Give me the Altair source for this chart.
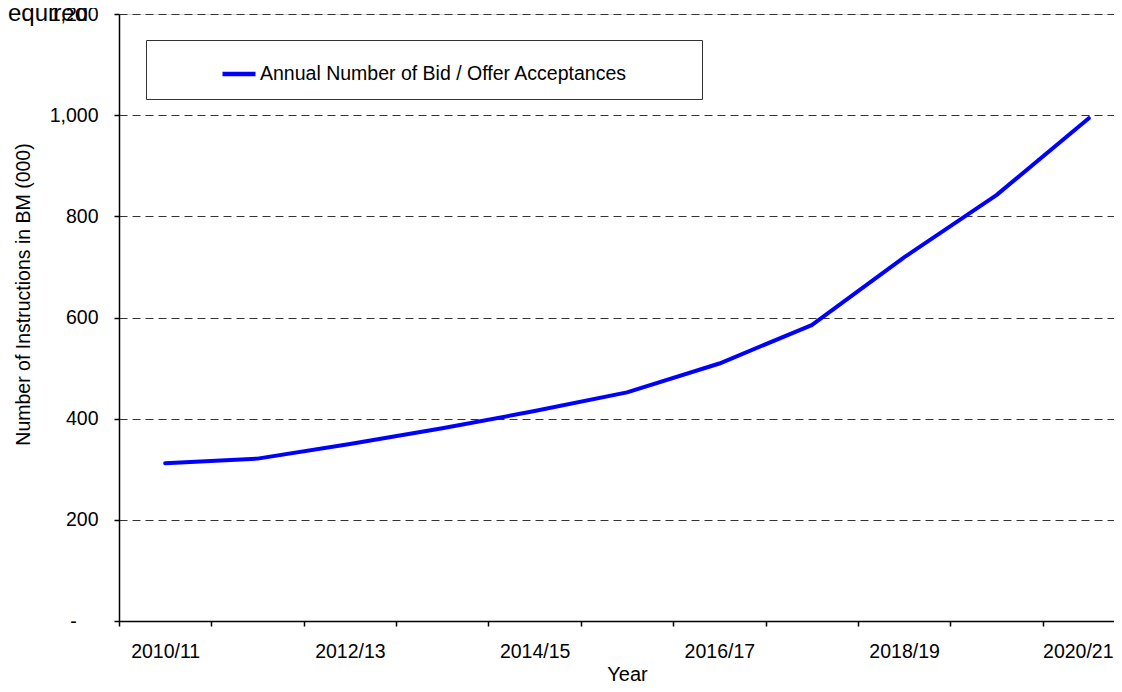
import altair as alt
import pandas as pd

years = ["2010/11", "2011/12", "2012/13", "2013/14", "2014/15", "2015/16",
         "2016/17", "2017/18", "2018/19", "2019/20", "2020/21"]
values = [312, 321, 350, 381, 415, 452, 509, 585, 719, 842, 994]
series_name = "Annual Number of Bid / Offer Acceptances"
y_ticks = [0, 200, 400, 600, 800, 1000, 1200]
corner_text = ["equired"]

FONT = "Liberation Sans"
NB = "\u00a0"
ZW = "\u200b"
FS = 19.5

df = pd.DataFrame({"Year": years, "Value": values, "Series": [series_name] * len(years)})
df_txt = pd.DataFrame({"t": corner_text})

x_enc = alt.X(
    "Year:N",
    sort=years,
    bandPosition=0.5,
    scale=alt.Scale(type="band", paddingInner=0, paddingOuter=0, range=[0, 1016]),
    axis=alt.Axis(
        title="Year",
        tickBand="extent",
        labelAngle=0,
        labelExpr="toNumber(substring(datum.label, 0, 4)) % 2 == 0 ? datum.label : ''",
        labelOffset={"condition": {"test": "datum.value == '2020/21'", "value": -11}, "value": 0},
        labelFont=FONT, labelFontSize=FS, labelColor="black",
        labelPadding=16, tickSize=5, tickColor="black", tickWidth=1.5,
        domainColor="black", domainWidth=1.5,
        titleFont=FONT, titleFontSize=20, titleFontWeight="normal", titleColor="black",
        titleX=508, titleY=59, titleBaseline="alphabetic", titleAnchor="middle",
        grid=False,
    ),
)

y_enc = alt.Y(
    "Value:Q",
    scale=alt.Scale(domain=[0, 1200], nice=False),
    axis=alt.Axis(
        title="Number of Instructions in BM (000)",
        values=y_ticks,
        labelExpr="datum.value == 0 ? '-" + NB * 4 + ZW + "' : format(datum.value, ',')",
        labelFont=FONT, labelFontSize=FS, labelColor="black",
        labelPadding=16, tickSize=5, tickColor="black", tickWidth=1.5,
        domainColor="black", domainWidth=1.5,
        grid=True, gridColor="#333333", gridDash=[8, 5], gridWidth=1,
        titleFont=FONT, titleFontSize=FS, titleFontWeight="normal", titleColor="black",
        titleX=-96, titleY=280, titleBaseline="middle", titleAngle=270,
    ),
)

line = alt.Chart(df).mark_line(strokeWidth=4, strokeCap="round", strokeJoin="round").encode(
    x=x_enc,
    y=y_enc,
    color=alt.Color(
        "Series:N",
        scale=alt.Scale(domain=[series_name], range=["#0000FF"]),
        legend=alt.Legend(
            title=None,
            orient="none",
            legendX=27,
            legendY=26,
            padding=15,
            strokeColor="#333333",
            fillColor="white",
            symbolType="stroke",
            symbolSize=1089,
            symbolStrokeWidth=4.5,
            symbolOffset=59,
            labelOffset=2,
            labelFont=FONT,
            labelFontSize=FS,
            labelColor="black",
            labelLimit=900,
            labelExpr="datum.label + '" + NB * 11 + ZW + "'",
        ),
    ),
)

corner = alt.Chart(df_txt).mark_text(
    align="left", baseline="alphabetic", font=FONT, fontSize=24, color="black"
).encode(
    x=alt.value(-111),
    y=alt.value(7),
    text="t:N",
)

chart = alt.layer(line, corner).properties(
    width=995,
    height=607,
    autosize=alt.AutoSizeParams(type="none"),
    padding={"left": 111, "top": 6, "right": 0, "bottom": 63},
).configure_view(strokeOpacity=0).configure(background="white")

chart.save("out.html", embed_options={"renderer": "svg", "actions": False})
